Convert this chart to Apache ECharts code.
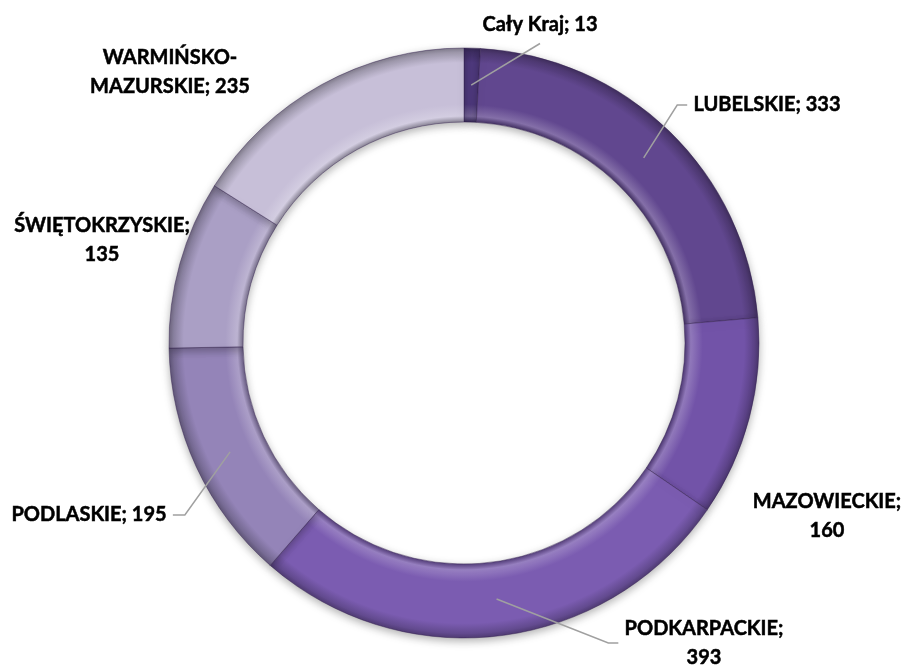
<!DOCTYPE html>
<html lang="pl">
<head>
    <meta charset="UTF-8">
    <title>Wykres pierścieniowy</title>
    <style>
        html, body { margin: 0; padding: 0; background: #fff; }
        #box { width: 905px; height: 666px; }
    </style>
</head>
<body>
    <div id="box"></div>
    <script src="https://cdn.jsdelivr.net/npm/echarts@6/dist/echarts.min.js"></script>
    <script>
        // dane
        var names = ['Cały Kraj', 'LUBELSKIE', 'MAZOWIECKIE', 'PODKARPACKIE', 'PODLASKIE', 'ŚWIĘTOKRZYSKIE', 'WARMIŃSKO-MAZURSKIE'];
        var values = [13, 333, 160, 393, 195, 135, 235];

        // kolory wycinków
        var colors = ['#4f3a7e', '#61478f', '#7253a8', '#7b5cb1', '#9484b8', '#aa9fc5', '#c7bfd8'];
        // pozycje etykiet [x, y] (środek)
        var labelPos = [[540, 25], [767, 105], [827, 516], [704, 643], [89, 515], [102, 240], [170, 72]];
        var showLine = [true, true, false, true, true, false, false];

        var cx = 464, cy = 343, rIn = 221, rOut = 295;

        function mix(hex, target, t) {
            var c = [parseInt(hex.substr(1, 2), 16), parseInt(hex.substr(3, 2), 16), parseInt(hex.substr(5, 2), 16)];
            var out = c.map(function (v) { return Math.round(v + (target - v) * t); });
            return 'rgb(' + out.join(',') + ')';
        }

        function ringFill(hex) {
            var k = rIn / rOut;
            return {
                type: 'radial', x: cx, y: cy, r: rOut, global: true,
                colorStops: [
                    { offset: 0, color: mix(hex, 0, 0.3) },
                    { offset: k, color: mix(hex, 0, 0.3) },
                    { offset: k + 0.02, color: mix(hex, 255, 0.22) },
                    { offset: k + 0.06, color: hex },
                    { offset: 0.95, color: hex },
                    { offset: 0.985, color: mix(hex, 0, 0.2) },
                    { offset: 1, color: mix(hex, 0, 0.35) }
                ]
            };
        }

        // kąt środka każdego wycinka (od góry, zgodnie z ruchem wskazówek)
        var total = values.reduce(function (a, b) { return a + b; }, 0);
        var midAngle = [];
        var acc = 0;
        for (var i = 0; i < values.length; i++) {
            midAngle.push((acc + values[i] / 2) / total * 2 * Math.PI);
            acc += values[i];
        }

        var pieData = [];
        for (var i = 0; i < names.length; i++) {
            pieData.push({
                name: names[i],
                value: values[i],
                itemStyle: { color: ringFill(colors[i]) }
            });
        }

        var labelSize = [];

        var myChart = echarts.init(document.getElementById('box'));
        var option = {
            backgroundColor: '#ffffff',
            animation: false,
            series: [{
                type: 'pie',
                center: [cx, cy],
                radius: [rIn, rOut],
                startAngle: 90,
                clockwise: true,
                avoidLabelOverlap: false,
                data: pieData,
                itemStyle: {
                    borderColor: 'rgba(50,30,80,0.45)',
                    borderWidth: 1,
                    shadowBlur: 8,
                    shadowColor: 'rgba(0,0,0,0.3)',
                    shadowOffsetY: 3
                },
                label: {
                    show: true,
                    position: 'outside',
                    fontFamily: 'Lato',
                    fontWeight: 'bold',
                    fontSize: 20,
                    lineHeight: 29,
                    color: '#000',
                    textBorderColor: '#000',
                    textBorderWidth: 0.5,
                    align: 'center',
                    formatter: function (p) {
                        if (p.name.indexOf('-') > 0) {
                            return p.name.replace('-', '-\n') + '; ' + p.value;
                        }
                        if (p.name.length > 10) {
                            return p.name + ';\n' + p.value;
                        }
                        return p.name + '; ' + p.value;
                    }
                },
                labelLine: { show: false },
                labelLayout: function (params) {
                    var pos = labelPos[params.dataIndex];
                    labelSize[params.dataIndex] = [params.labelRect.width, params.labelRect.height];
                    return { x: pos[0], y: pos[1], align: 'center', verticalAlign: 'middle' };
                }
            }]
        };

        option && myChart.setOption(option);

        // linie odniesienia: od środka pierścienia do etykiety
        var lines = [];
        var rMid = (rIn + rOut) / 2;
        for (var i = 0; i < names.length; i++) {
            if (!showLine[i] || !labelSize[i]) continue;
            var pos = labelPos[i];
            var w = labelSize[i][0], h = labelSize[i][1];
            var a = midAngle[i];
            var start = [cx + rMid * Math.sin(a), cy - rMid * Math.cos(a)];
            var end, elbow;
            if (pos[1] + h / 2 < cy - rOut + 20) {
                end = [pos[0], pos[1] + h / 2 + 4];
                elbow = end;
            } else if (pos[0] > cx) {
                end = [pos[0] - w / 2 - 6, pos[1]];
                elbow = [end[0] - 10, end[1]];
            } else {
                end = [pos[0] + w / 2 + 6, pos[1]];
                elbow = [end[0] + 12, end[1]];
            }
            lines.push({
                type: 'polyline',
                z: 100,
                shape: { points: [start, elbow, end] },
                style: { stroke: '#a0a0a0', lineWidth: 1.5, fill: null }
            });
        }
        myChart.setOption({ graphic: lines });
    </script>
</body>
</html>
